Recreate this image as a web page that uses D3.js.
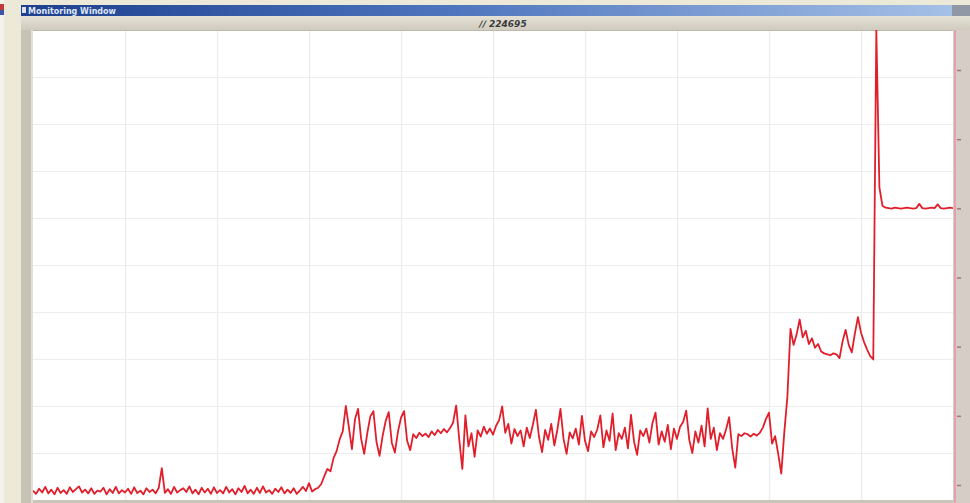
<!DOCTYPE html>
<html>
<head>
<meta charset="utf-8">
<script src="https://cdn.jsdelivr.net/npm/d3@7/dist/d3.min.js"></script>
<style>
  html, body { margin: 0; padding: 0; background: #ece9d8; overflow: hidden; }
  svg { display: block; }
</style>
</head>
<body>
<svg id="chart" width="970" height="503"></svg>
<script>
// ---- labels ----
const windowTitle = "Monitoring Window";
const counterLabel = "224695";

// ---- axis ticks ----
const xTicks = [0, 30, 60, 90, 120, 150, 180, 210, 240, 270, 300];
const yTicks = [0, 10, 20, 30, 40, 50, 60, 70, 80, 90, 100];
const rightTicks = [0, 1, 2, 3, 4, 5, 6];

// ---- samples (one per time step, percent of full scale) ----
const idleLoad = [
  2.0,1.3,2.4,1.6,2.8,1.4,2.2,1.2,2.6,1.5,
  2.1,1.3,2.7,1.7,2.3,2.9,1.6,2.2,1.4,2.5,
  1.3,2.0,1.8,2.6,1.2,2.3,1.5,2.8,1.4,2.1,
  1.6,2.4,1.3,2.7,1.5,2.0,1.2,2.5,1.7,2.2,
  1.4,2.6,6.8,1.5,2.3,1.3,2.8,1.6,2.1,2.5,
  1.7,2.9,1.4,2.2,1.2,2.6,1.6,2.4,1.3,2.7,
  1.5,2.1,1.4,2.8,1.6,2.3,1.2,2.5,1.7,3.0,
  1.4,2.2,1.3,2.6,1.5,2.9,1.6,2.1,1.3,2.4,
  1.7,2.7,1.4,2.2,1.5,2.5,1.3,2.0,2.8,1.9,
  3.6,1.8,2.3
];
const rampUp = [2.6, 3.4, 5.1, 6.6, 6.1, 8.9, 10.4, 12.9, 14.6];
const mediumLoad = [
  20.0,15.5,10.8,17.2,19.4,13.0,9.8,14.2,17.8,18.9,
  12.4,9.4,13.6,16.8,18.7,12.2,10.1,14.5,17.5,18.9,
  12.6,10.6,14.0,13.2,14.3,13.6,14.1,13.4,14.6,13.8,
  14.9,14.2,15.1,14.4,15.3,16.5,20.1,12.8,6.6,18.0,
  11.4,14.2,9.2,14.8,13.5,15.6,14.1,15.2,13.9,15.8,
  17.0,19.9,14.3,16.2,12.0,15.1,13.6,14.8,11.4,15.4,
  13.2,16.0,19.2,13.4,10.2,14.9,12.8,16.2,11.6,15.0,
  19.4,13.0,9.8,14.4,13.1,15.2,11.8,17.9,12.6,10.4,
  14.6,13.4,15.0,18.0,11.2,14.8,12.6,18.4,10.6,14.2,
  13.0,15.4,11.0,18.1,12.4,9.6,14.8,13.6,15.2,12.2,
  16.4,18.6,11.8,14.6,12.4,16.0,10.8,15.2,13.0,15.6,
  16.6,19.0,12.8,10.0,14.6,12.2,15.8,11.4,19.5,13.0,
  15.4,10.6,14.2,13.0,15.0,17.6,11.0,6.9,14.0,13.6,
  14.2,14.0,13.5,14.1,13.7,14.3,15.4,17.2,18.6,12.0,
  13.6,9.8
];
const highLoad = [
  5.6,14.5,22.0,36.4,33.0,35.2,38.4,34.6,36.0,33.2,
  34.4,32.4,33.2,31.6,31.2,31.0,30.8,31.2,31.0,30.2,
  33.8,36.2,33.0,31.4,35.4,38.9,35.6,33.6,32.0,30.6,
  29.9
];
const peak = [100];
const settled = [
  66.5,62.6,62.2,62.1,62.0,62.2,62.1,62.0,62.1,62.2,
  62.1,62.0,62.1,63.0,62.1,62.0,62.1,62.2,62.1,62.9,
  62.1,62.0,62.1,62.2,62.1
];

const series = [].concat(idleLoad, rampUp, mediumLoad, highLoad, peak, settled)
  .map((v, i) => ({ t: i, v: v }));

// ---- layout ----
const W = 970, H = 503;
const plot = { left: 33, right: 953, top: 30, bottom: 500 };

const svg = d3.select("#chart");
const defs = svg.append("defs");

const titleGrad = defs.append("linearGradient").attr("id", "titleGrad")
  .attr("x1", "0%").attr("x2", "100%");
titleGrad.append("stop").attr("offset", "0%").attr("stop-color", "#1d3f8e");
titleGrad.append("stop").attr("offset", "45%").attr("stop-color", "#4d74bd");
titleGrad.append("stop").attr("offset", "100%").attr("stop-color", "#a9c3e8");

const barGrad = defs.append("linearGradient").attr("id", "barGrad")
  .attr("x1", "0%").attr("x2", "0%").attr("y1", "0%").attr("y2", "100%");
barGrad.append("stop").attr("offset", "0%").attr("stop-color", "#e4e1d6");
barGrad.append("stop").attr("offset", "100%").attr("stop-color", "#cfcbbe");

defs.append("clipPath").attr("id", "plotClip").append("rect")
  .attr("x", plot.left).attr("y", plot.top)
  .attr("width", plot.right - plot.left).attr("height", plot.bottom - plot.top);

// desktop behind the window
svg.append("rect").attr("width", W).attr("height", H).attr("fill", "#ece9d8");
svg.append("rect").attr("x", 0).attr("y", 0).attr("width", 4).attr("height", H).attr("fill", "#f3f1ec");
svg.append("rect").attr("x", 0).attr("y", 4).attr("width", 4).attr("height", 6).attr("fill", "#c23a3a");
svg.append("rect").attr("x", 0).attr("y", 10).attr("width", 4).attr("height", 5).attr("fill", "#3a55a8");

// window frame
svg.append("rect").attr("x", 21).attr("y", 5).attr("width", W - 21).attr("height", H - 5).attr("fill", "#cbc7ba");
svg.append("rect").attr("x", 21).attr("y", 5).attr("width", W - 21).attr("height", 11).attr("fill", "url(#titleGrad)");
svg.append("rect").attr("x", 22).attr("y", 7).attr("width", 4).attr("height", 6).attr("fill", "#d9e3f5");
svg.append("text").attr("x", 28).attr("y", 14)
  .attr("font-family", "DejaVu Sans, sans-serif").attr("font-size", 8).attr("font-weight", "bold")
  .attr("fill", "#dfe7f7").text(windowTitle);
svg.append("rect").attr("x", 952).attr("y", 5).attr("width", 18).attr("height", 11).attr("fill", "#8f98a4");

// toolbar strip
svg.append("rect").attr("x", 21).attr("y", 16).attr("width", W - 21).attr("height", 14).attr("fill", "url(#barGrad)");
svg.append("text").attr("x", 503).attr("y", 27).attr("text-anchor", "middle")
  .attr("font-family", "DejaVu Sans, sans-serif").attr("font-size", 9).attr("font-weight", "bold")
  .attr("font-style", "italic").attr("fill", "#3c3c3c").text("\u2215\u2215 " + counterLabel);

// left frame bevel
svg.append("rect").attr("x", 21).attr("y", 30).attr("width", 10).attr("height", H - 30).attr("fill", "#c6c2b5");
svg.append("rect").attr("x", 31).attr("y", 30).attr("width", 2).attr("height", H - 30).attr("fill", "#e2dfd5");

// plot background
svg.append("rect").attr("x", plot.left).attr("y", plot.top)
  .attr("width", plot.right - plot.left).attr("height", plot.bottom - plot.top).attr("fill", "#ffffff");

// ---- scales ----
const x = d3.scaleLinear().domain([0, 300]).range([plot.left, plot.right]);
const y = d3.scaleLinear().domain([0, 100]).range([plot.bottom, plot.top]);
const yRight = d3.scaleLinear().domain([0, 6]).range([485, 70]);

// grid
const gx = svg.append("g").attr("transform", `translate(0,${plot.bottom})`)
  .call(d3.axisBottom(x).tickValues(xTicks.slice(1, -1)).tickSize(-(plot.bottom - plot.top)).tickFormat(""));
gx.select(".domain").remove();
gx.selectAll("line").attr("stroke", "#ebebeb").attr("stroke-width", 1.2);

const gy = svg.append("g").attr("transform", `translate(${plot.left},0)`)
  .call(d3.axisLeft(y).tickValues(yTicks.slice(1, -1)).tickSize(-(plot.right - plot.left)).tickFormat(""));
gy.select(".domain").remove();
gy.selectAll("line").attr("stroke", "#ededed").attr("stroke-width", 1.2);

// plot border
svg.append("line").attr("x1", plot.left).attr("x2", plot.right).attr("y1", plot.top + 0.5).attr("y2", plot.top + 0.5)
  .attr("stroke", "#bdb9ad");
svg.append("rect").attr("x", plot.left).attr("y", plot.bottom).attr("width", plot.right - plot.left).attr("height", 3)
  .attr("fill", "#c9c5b8");

// right scale strip
svg.append("rect").attr("x", plot.right).attr("y", plot.top).attr("width", W - plot.right).attr("height", H - plot.top)
  .attr("fill", "#d5cdc6");
svg.append("line").attr("x1", plot.right + 2).attr("x2", plot.right + 2).attr("y1", plot.top).attr("y2", H)
  .attr("stroke", "#e2a2ab").attr("stroke-width", 2);
const gr = svg.append("g").attr("transform", `translate(${plot.right + 4},0)`)
  .call(d3.axisRight(yRight).tickValues(rightTicks).tickSize(4).tickFormat(""));
gr.select(".domain").remove();
gr.selectAll("line").attr("stroke", "#b0707a").attr("stroke-width", 1.5);

// ---- data line ----
const line = d3.line().x(d => x(d.t)).y(d => y(d.v));
svg.append("path").datum(series)
  .attr("clip-path", "url(#plotClip)")
  .attr("fill", "none")
  .attr("stroke", "#e11f2b")
  .attr("stroke-width", 1.8)
  .attr("stroke-linejoin", "round")
  .attr("d", line);
</script>
</body>
</html>
